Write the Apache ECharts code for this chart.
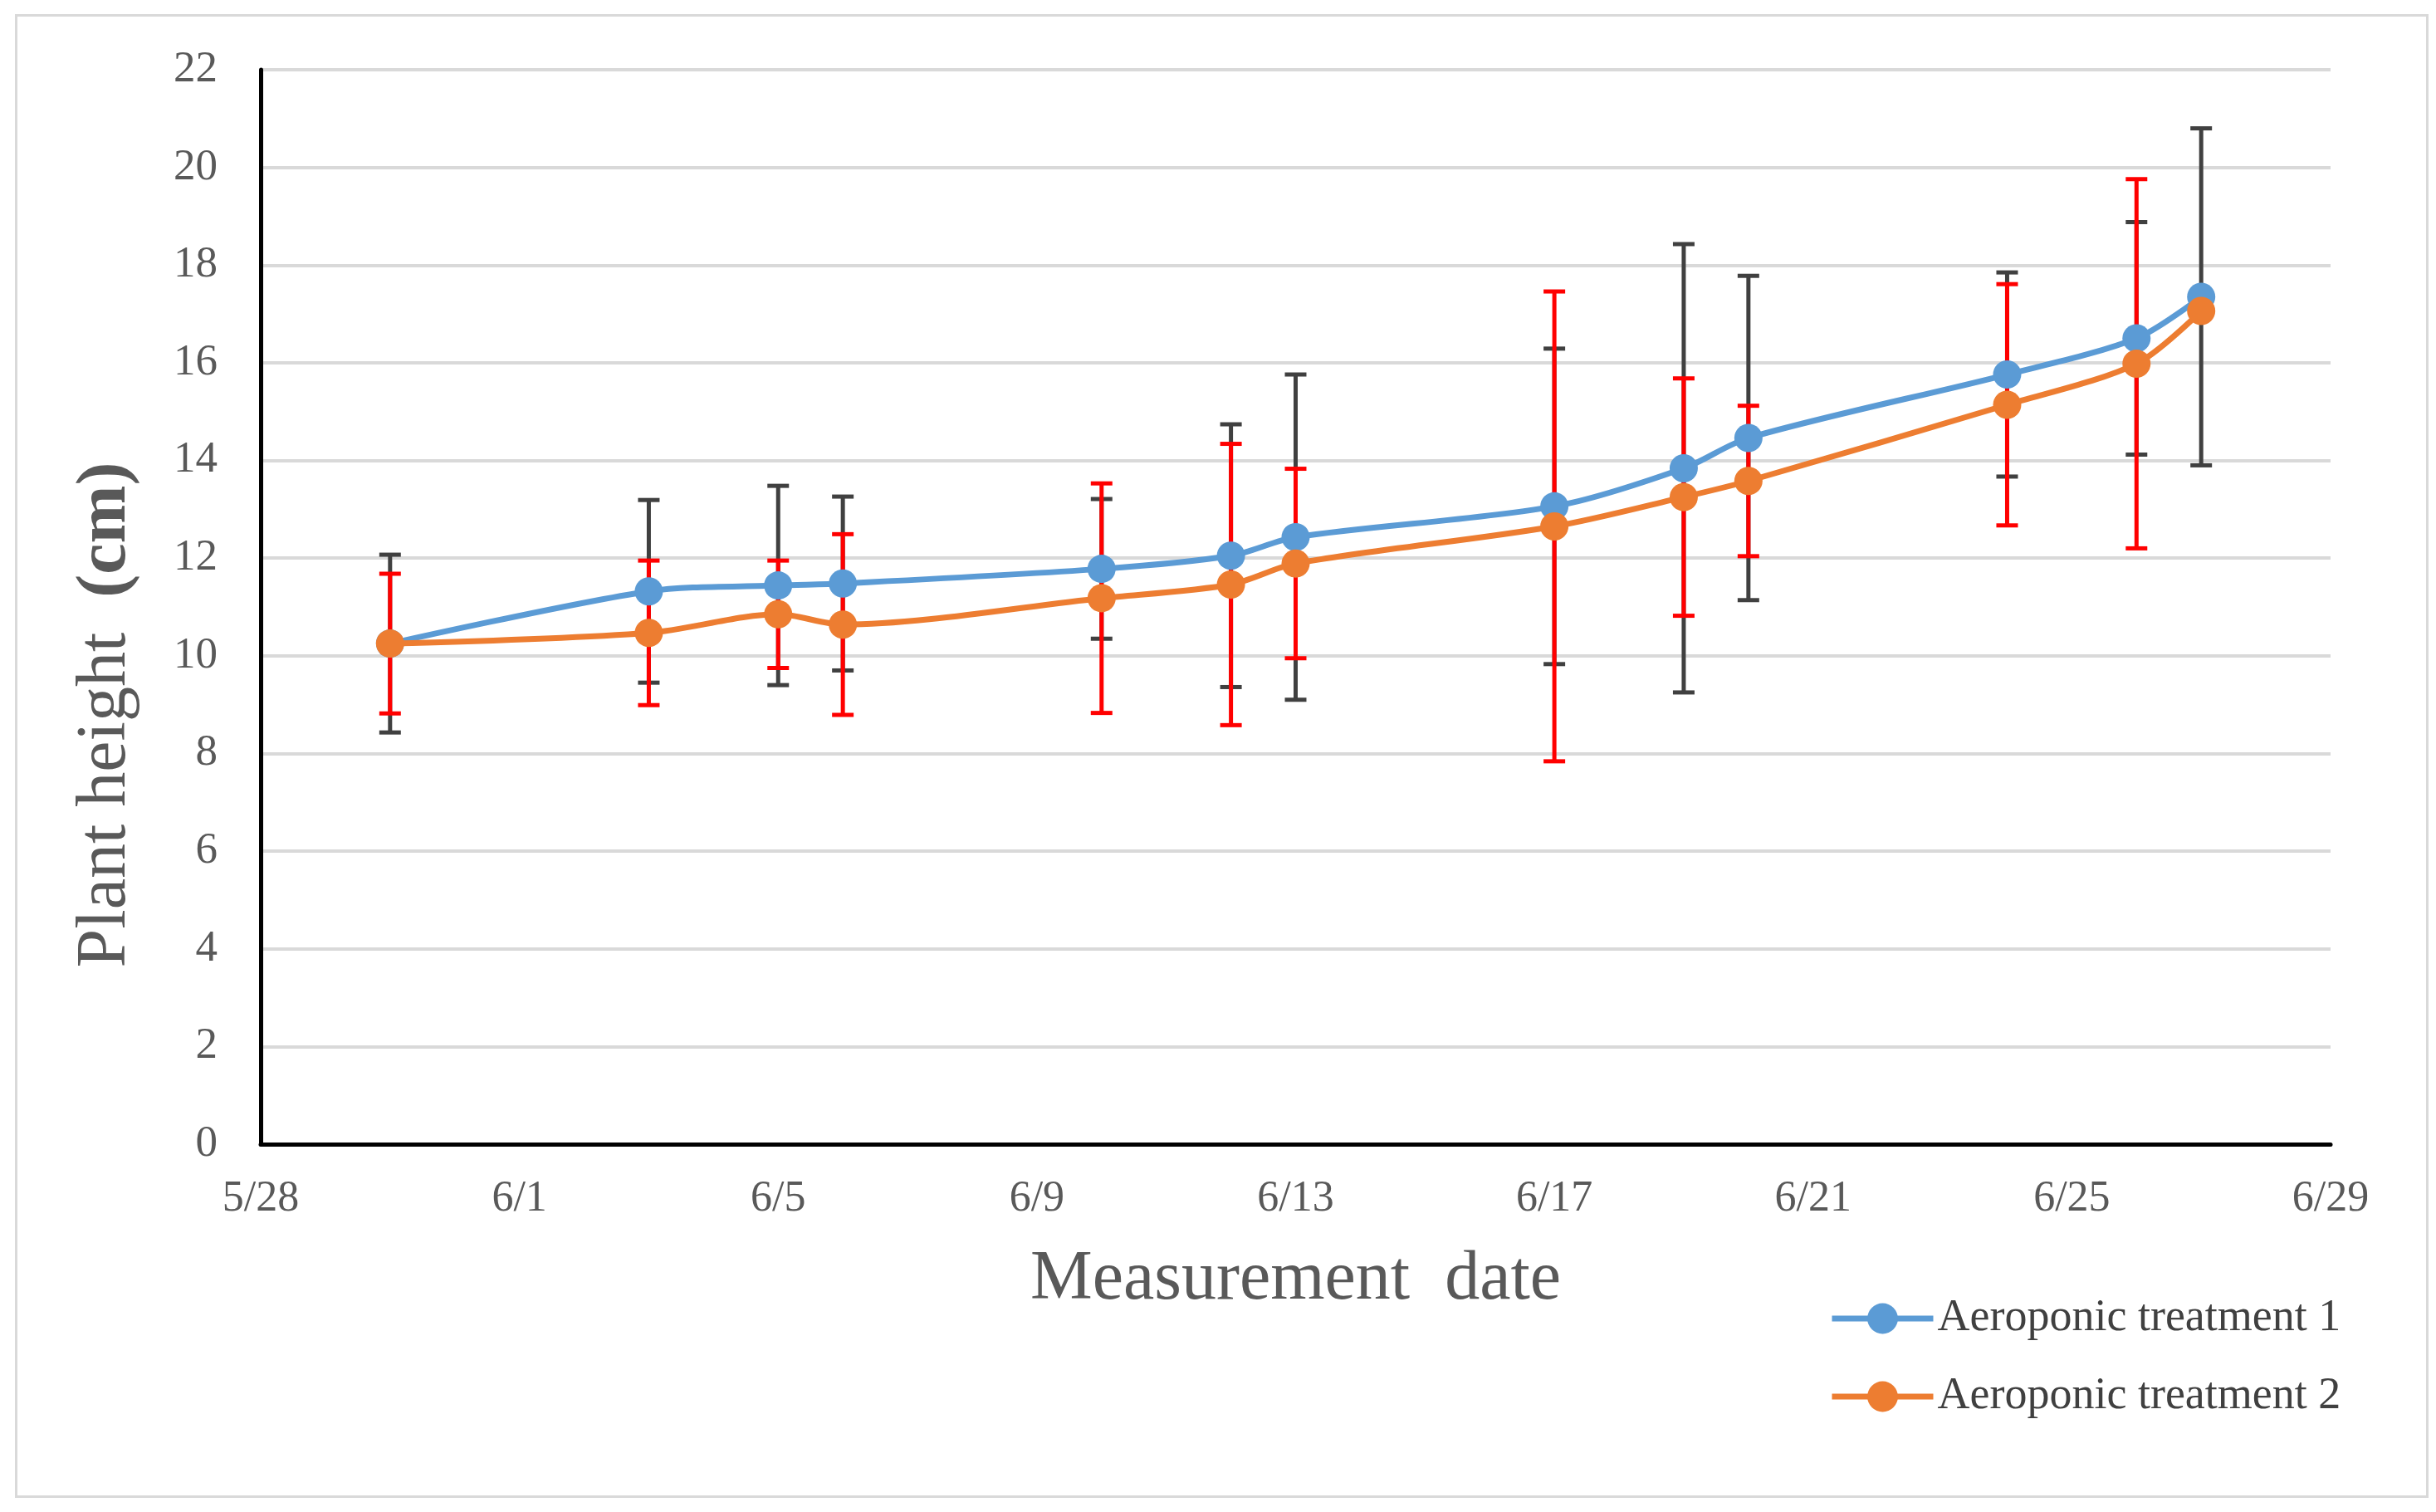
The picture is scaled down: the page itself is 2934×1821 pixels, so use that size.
<!DOCTYPE html>
<html>
<head>
<meta charset="utf-8">
<script src="https://cdn.jsdelivr.net/npm/echarts@6/dist/echarts.min.js"></script>
<style>
html,body{margin:0;padding:0;background:#fff;}
#chart{width:2934px;height:1821px;}
</style>
</head>
<body>
<div id="chart"></div>
<script>
// ---- data ----
var dates = ['5/30','6/3','6/5','6/6','6/10','6/12','6/13','6/17','6/19','6/20','6/24','6/26','6/27'];
var tickLabels = ['5/28','6/1','6/5','6/9','6/13','6/17','6/21','6/25','6/29'];
var seriesNames = ['Aeroponic treatment 1','Aeroponic treatment 2'];
var mean1 = [10.25,11.32,11.44,11.48,11.78,12.05,12.43,13.06,13.84,14.46,15.76,16.50,17.35];
var sd1   = [1.82,1.87,2.04,1.78,1.43,2.69,3.33,3.23,4.59,3.32,2.09,2.38,3.45];
var mean2 = [10.25,10.47,10.85,10.64,11.18,11.46,11.89,12.65,13.25,13.58,15.14,15.98,17.06];
var sd2   = [1.43,1.48,1.10,1.85,2.35,2.88,1.94,4.81,2.43,1.54,2.47,3.78,0];

// ---- helpers ----
function dayIndex(s){ // days since 5/28
  var p = s.split('/');
  return Math.round((Date.UTC(2020, +p[0]-1, +p[1]) - Date.UTC(2020,4,28)) / 86400000);
}
var xs = dates.map(dayIndex);
var lineData1 = xs.map(function(x,i){return [x, mean1[i]];});
var lineData2 = xs.map(function(x,i){return [x, mean2[i]];});
var err1 = xs.map(function(x,i){return [x, mean1[i]-sd1[i], mean1[i]+sd1[i]];}).filter(function(d,i){return sd1[i]>0;});
var err2 = xs.map(function(x,i){return [x, mean2[i]-sd2[i], mean2[i]+sd2[i]];}).filter(function(d,i){return sd2[i]>0;});

function errRender(color){
  return function(params, api){
    var x = api.value(0), lo = api.value(1), hi = api.value(2);
    var a = api.coord([x, hi]), b = api.coord([x, lo]);
    var hw = 13, st = {stroke: color, lineWidth: 5};
    return {type:'group', children:[
      {type:'line', shape:{x1:a[0],y1:a[1],x2:b[0],y2:b[1]}, style:st},
      {type:'line', shape:{x1:a[0]-hw,y1:a[1],x2:a[0]+hw,y2:a[1]}, style:st},
      {type:'line', shape:{x1:b[0]-hw,y1:b[1],x2:b[0]+hw,y2:b[1]}, style:st}
    ]};
  };
}

var FONT = '"Liberation Serif","Times New Roman",serif';
var chart = echarts.init(document.getElementById('chart'), null, {renderer:'canvas'});
chart.setOption({
  backgroundColor:'#ffffff',
  animation:false,
  grid:{left:314, right:127, top:84, bottom:443},
  xAxis:{
    type:'value', min:0, max:32, interval:4,
    axisLine:{show:true, lineStyle:{color:'#000', width:5}},
    axisTick:{show:false},
    splitLine:{show:false},
    axisLabel:{fontFamily:FONT, fontSize:52, color:'#595959', margin:40,
      formatter:function(v){ return tickLabels[Math.round(v/4)] || ''; }},
    name:'Measurement  date', nameLocation:'middle', nameGap:122,
    nameTextStyle:{fontFamily:FONT, fontSize:84, color:'#595959'}
  },
  yAxis:{
    type:'value', min:0, max:22, interval:2,
    axisLine:{show:true, lineStyle:{color:'#000', width:5}},
    axisTick:{show:false},
    splitLine:{show:true, lineStyle:{color:'#d9d9d9', width:4}},
    axisLabel:{fontFamily:FONT, fontSize:53, color:'#595959', margin:52}
  },
  legend:{
    orient:'vertical', left:2198, top:1556,
    data:seriesNames,
    itemWidth:122, itemHeight:46, itemGap:40,
    lineStyle:{width:7},
    textStyle:{fontFamily:FONT, fontSize:54, color:'#404040'}
  },
  graphic:[
    {type:'rect', left:17, top:16, shape:{width:2904, height:1784},
     style:{fill:'none', stroke:'#d9d9d9', lineWidth:3}, silent:true},
    {type:'text', x:128, y:861, rotation:Math.PI/2,
     style:{text:'{n|Plant height  }{b|(cm)}', textAlign:'center', textVerticalAlign:'middle',
       rich:{n:{fontFamily:FONT, fontSize:84, fill:'#595959'},
             b:{fontFamily:FONT, fontSize:84, fontWeight:'bold', fill:'#595959'}}}}
  ],
  series:[
    {type:'custom', name:'err1', data:err1, renderItem:errRender('#404040'), z:1, silent:true,
      encode:{x:0, y:[1,2]}},
    {type:'custom', name:'err2', data:err2, renderItem:errRender('#ff0000'), z:2, silent:true,
      encode:{x:0, y:[1,2]}},
    {type:'line', name:seriesNames[0], data:lineData1, smooth:0.3, z:3,
      symbol:'circle', symbolSize:34,
      lineStyle:{color:'#5b9bd5', width:7}, itemStyle:{color:'#5b9bd5'}},
    {type:'line', name:seriesNames[1], data:lineData2, smooth:0.3, z:4,
      symbol:'circle', symbolSize:34,
      lineStyle:{color:'#ed7d31', width:7}, itemStyle:{color:'#ed7d31'}}
  ]
});
</script>
</body>
</html>
